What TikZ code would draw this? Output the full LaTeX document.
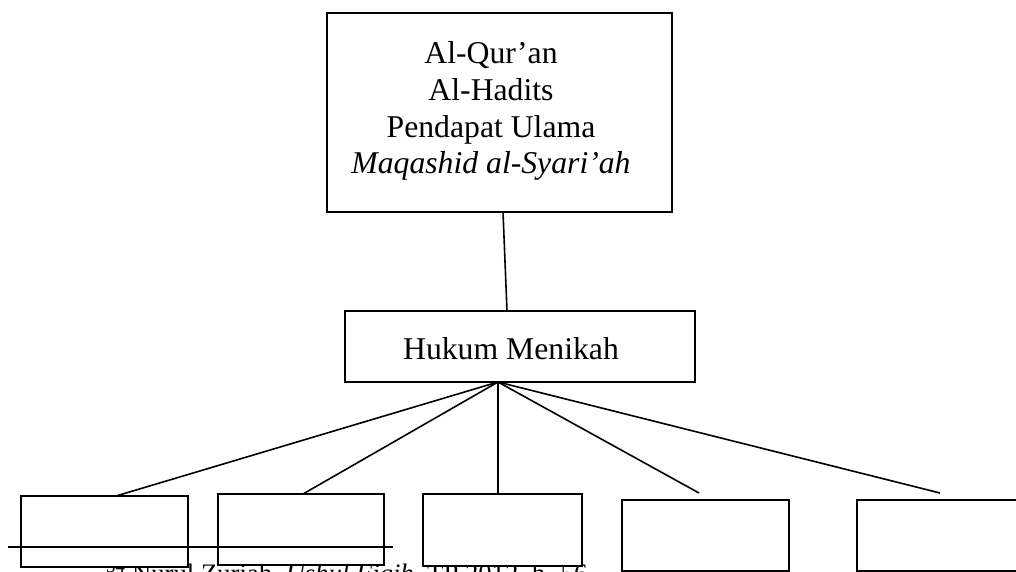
\documentclass[tikz,border=0pt]{standalone}
\usepackage{fontspec}
\setmainfont{Liberation Serif}
\begin{document}
\begin{tikzpicture}[x=1pt,y=-1pt,
  box/.style={draw=black,fill=white,line width=1.8pt,inner sep=0pt,anchor=center},
  conn/.style={draw=black,line width=1.6pt},
  body/.style={font=\fontsize{31.7}{36.8}\selectfont,inner sep=0pt,anchor=base},
  foot/.style={font=\fontsize{26.7}{30}\selectfont,inner sep=0pt,anchor=base west}]
\useasboundingbox (0,0) rectangle (1016,572);
\clip (0,0) rectangle (1016,572);
% footnote text (behind boxes)
\node[foot] (fn) at (106,582) {\textsuperscript{54} Nurul Zuriah, \textit{Ushul Fiqih}, TP 2012, h. 56};
% top box
\node[box,minimum width=345pt,minimum height=199pt] (src) at (499.5,112.4) {};
\node[body] (t1) at (491,63.5) {Al-Qur’an};
\node[body] (t2) at (491,100.3) {Al-Hadits};
\node[body] (t3) at (491,137.1) {Pendapat Ulama};
\node[body] (t4) at (491,173.9) {\textit{Maqashid al-Syari’ah}};
% middle box
\node[box,minimum width=350pt,minimum height=71pt] (hk) at (520,346.5) {};
\node[body] (hkt) at (511,359) {Hukum Menikah};
% bottom boxes
\node[box,minimum width=167pt,minimum height=71pt] (b1) at (104.5,531.5) {};
\node[box,minimum width=166pt,minimum height=71pt] (b2) at (301,529.5) {};
\node[box,minimum width=159pt,minimum height=72pt] (b3) at (502.5,530) {};
\node[box,minimum width=167pt,minimum height=71pt] (b4) at (705.5,535.5) {};
\node[box,minimum width=173pt,minimum height=71pt] (b5) at (943.5,535.5) {};
% connector points
\coordinate (s1) at (503,212);
\coordinate (s2) at (507,311);
\coordinate (hub) at (498,382);
\coordinate (e1) at (116,496);
\coordinate (e2) at (303,494);
\coordinate (e3) at (498,494);
\coordinate (e4) at (699,493);
\coordinate (e5) at (940,493);
\draw[conn] (s1) -- (s2);
\draw[conn] (hub) -- (e1);
\draw[conn] (hub) -- (e2);
\draw[conn] (hub) -- (e3);
\draw[conn] (hub) -- (e4);
\draw[conn] (hub) -- (e5);
% footnote rule
\coordinate (r1) at (8,547);
\coordinate (r2) at (393,547);
\draw[line width=1.6pt] (r1) -- (r2);
\end{tikzpicture}
\end{document}
